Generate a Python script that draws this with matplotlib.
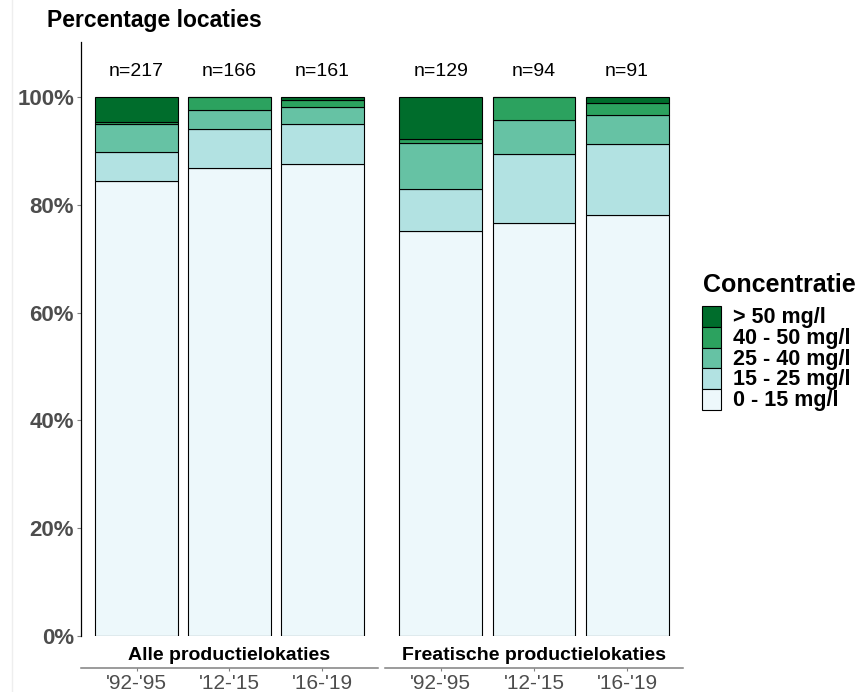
import matplotlib.pyplot as plt
from matplotlib.patches import Rectangle
from matplotlib.lines import Line2D
import numpy as np

plt.rcParams['font.family'] = ['Liberation Sans', 'DejaVu Sans']

# Data (number of locations per concentration class)
periods = ["'92-'95", "'12-'15", "'16-'19"]
panels = ["Alle productielokaties", "Freatische productielokaties"]
classes = ["0 - 15 mg/l", "15 - 25 mg/l", "25 - 40 mg/l", "40 - 50 mg/l", "> 50 mg/l"]
colors = ["#edf8fb", "#b2e2e2", "#66c2a4", "#2ca25f", "#006d2c"]

alle_counts = [
    [183, 144, 141],   # 0 - 15
    [12, 12, 12],      # 15 - 25
    [11, 6, 5],        # 25 - 40
    [1, 4, 2],         # 40 - 50
    [10, 0, 1],        # > 50
]
freatisch_counts = [
    [97, 72, 71],
    [10, 12, 12],
    [11, 6, 5],
    [1, 4, 2],
    [10, 0, 1],
]

W, H = 862, 692
fig = plt.figure(figsize=(W / 100, H / 100), dpi=100)

grey = "#4d4d4d"
x = np.arange(1, 4)


def draw_panel(ax, counts, title, first):
    counts = np.array(counts, dtype=float)
    n = counts.sum(axis=0)
    pct = counts / n * 100
    bottom = np.zeros(3)
    for i in range(len(classes)):
        ax.bar(x, pct[i], 0.89, bottom=bottom, color=colors[i],
               edgecolor="black", linewidth=0.8)
        bottom += pct[i]
    for xi, ni in zip(x, n):
        ax.text(xi, 104.8, f"n={int(ni)}", ha="center", va="center", fontsize=14)
    ax.set_xlim(0.4, 3.6)
    ax.set_ylim(0, 110.2)
    ax.set_xticks(x)
    ax.set_xticklabels(periods)
    ax.spines['top'].set_visible(False)
    ax.spines['right'].set_visible(False)
    ax.spines['bottom'].set_position(('outward', 23))
    ax.spines['bottom'].set_color("#808080")
    ax.spines['bottom'].set_linewidth(1.1)
    ax.tick_params(axis='x', length=2.5, color="#808080", pad=2,
                   labelsize=15, labelcolor=grey)
    ax.text(2, -3.6, title, ha="center", va="center", fontsize=14,
            fontweight="bold")
    if first:
        ax.set_yticks([0, 20, 40, 60, 80, 100])
        ax.set_yticklabels(["0%", "20%", "40%", "60%", "80%", "100%"])
        ax.tick_params(axis='y', length=3, color="#808080", pad=2,
                       labelsize=16, labelcolor=grey)
        for t in ax.get_yticklabels():
            t.set_fontweight("bold")
        ax.spines['left'].set_color("black")
        ax.spines['left'].set_linewidth(0.9)
    else:
        ax.spines['left'].set_visible(False)
        ax.set_yticks([])


bot = 56 / H
hgt = 594 / H
ax1 = fig.add_axes([81 / W, bot, 297 / W, hgt])
ax2 = fig.add_axes([385 / W, bot, 298 / W, hgt])
draw_panel(ax1, alle_counts, panels[0], True)
draw_panel(ax2, freatisch_counts, panels[1], False)

fig.text(47 / W, 1 - 20 / H, "Percentage locaties", ha="left", va="center",
         fontsize=16.5, fontweight="bold")

# legend, drawn by hand so the rows sit as tight as in the original
fig.text(703 / W, 1 - 285 / H, "Concentratie", ha="left", va="center",
         fontsize=18, fontweight="bold")
key_top = 306
key_h = 20.8
for k, i in enumerate(reversed(range(len(classes)))):
    y0 = key_top + k * key_h
    fig.add_artist(Rectangle((702 / W, 1 - (y0 + key_h) / H), 19 / W, key_h / H,
                             transform=fig.transFigure, facecolor=colors[i],
                             edgecolor="black", linewidth=0.8))
    fig.text(733 / W, 1 - (y0 + key_h / 2 + 1) / H, classes[i], ha="left",
             va="center", fontsize=15.5, fontweight="bold")

fig.add_artist(Line2D([12 / W, 12 / W], [0, 1], color="#eeeeee", linewidth=1))

fig.savefig("out.png", dpi=100)
